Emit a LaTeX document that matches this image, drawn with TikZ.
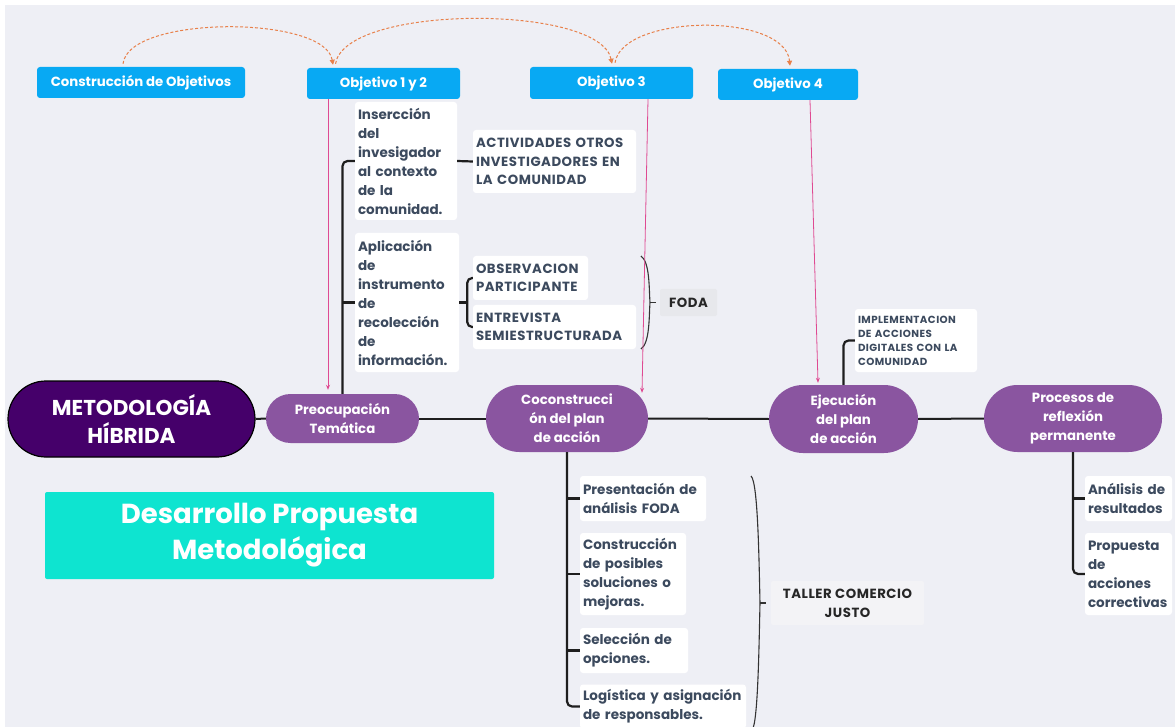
\documentclass[tikz,border=0pt]{standalone}
\usepackage{fontspec}
\setmainfont{Poppins}
\newfontfamily\capsfont{Poppins}[LetterSpace=4.0]
\usetikzlibrary{arrows.meta,calc}

\definecolor{pagebg}{HTML}{EEEFF5}
\definecolor{objblue}{HTML}{08A9F3}
\definecolor{deepviolet}{HTML}{45006A}
\definecolor{midviolet}{HTML}{8A55A0}
\definecolor{aquabox}{HTML}{0EE4D0}
\definecolor{slatetext}{HTML}{3C4A5E}
\definecolor{dashorange}{HTML}{E8804A}
\definecolor{linkpink}{HTML}{DF4A92}
\definecolor{tagbg}{HTML}{E7E8EC}
\definecolor{tagbglight}{HTML}{F3F3F6}
\definecolor{inkline}{HTML}{1E1E1E}

\tikzset{
  objbox/.style={fill=objblue, rounded corners=3, text=white, inner sep=0,
    font=\fontsize{13.3}{16}\selectfont\bfseries},
  pill/.style={fill=midviolet, text=white, align=center, inner sep=0,
    font=\fontsize{13.3}{19}\selectfont\bfseries},
  wbox/.style={fill=white, rounded corners=3, text=slatetext, align=left,
    inner xsep=3pt, inner ysep=0pt,
    font=\fontsize{13.5}{19}\selectfont\bfseries},
  capsbox/.style={wbox, font=\capsfont\fontsize{13.3}{18.5}\selectfont\bfseries},
  tagbox/.style={rounded corners=2, text=black!85, align=center, inner sep=0,
    font=\capsfont\fontsize{13.3}{19}\selectfont\bfseries},
  branch/.style={draw=inkline, line width=2.2pt, rounded corners=5},
  trunk/.style={draw=inkline, line width=2pt},
  link/.style={draw=linkpink, line width=0.8pt, -{Stealth[length=5pt,width=4pt]}},
  dasharc/.style={draw=dashorange, line width=1pt, dash pattern=on 3pt off 2pt,
    -{Triangle[length=5pt,width=5pt]}},
  bracestroke/.style={draw=black!80, line width=1.1pt}
}

\begin{document}
\begin{tikzpicture}[x=1pt,y=-1pt]
\useasboundingbox (0,0) rectangle (1175,727);
\fill[white] (0,0) rectangle (1175,727);
\fill[pagebg] (5,5) rectangle (1175,727);
\clip (0,0) rectangle (1175,727);

% objective boxes
\node[objbox, minimum width=208, minimum height=31] (cons) at (141,82.5) {Construcción de Objetivos};
\node[objbox, minimum width=153, minimum height=31] (o12) at (383.5,83.5) {Objetivo 1 y 2};
\node[objbox, minimum width=163, minimum height=32] (o3) at (611.5,83) {Objetivo 3};
\node[objbox, minimum width=140, minimum height=31] (o4) at (788,84.5) {Objetivo 4};

% main stages
\node[pill, fill=deepviolet, draw=black, line width=1.2pt, minimum width=247, minimum height=76,
  rounded corners=38, font=\fontsize{21.5}{28}\selectfont\bfseries] (meto) at (131.5,419) {METODOLOGÍA\\HÍBRIDA};
\node[pill, minimum width=153, minimum height=49, rounded corners=24.5] (preo) at (342.5,418.5) {Preocupación\\Temática};
\node[pill, minimum width=162, minimum height=67, rounded corners=33.5] (cocon) at (567,418.5) {Coconstrucci\\ón del plan\\de acción};
\node[pill, minimum width=149, minimum height=68, rounded corners=34] (ejec) at (843.5,419) {Ejecución\\del plan\\de acción};
\node[pill, minimum width=178, minimum height=67, rounded corners=33.5] (proc) at (1073,418.5) {Procesos de\\reflexión\\permanente};

% detail boxes
\node[wbox, text width=96, minimum height=118] (ins) at (406,161) {Insercción\\del\\invesigador\\al contexto\\de la\\comunidad.};
\node[wbox, text width=98, minimum height=139] (apl) at (407,302.5) {Aplicación\\de\\instrumento\\de\\recolección\\de\\información.};
\node[capsbox, text width=157, minimum height=63] (act) at (554.5,161.5) {ACTIVIDADES OTROS\\INVESTIGADORES EN\\LA COMUNIDAD};
\node[capsbox, text width=109, minimum height=44] (obs) at (530.5,278) {OBSERVACION\\PARTICIPANTE};
\node[capsbox, text width=157, minimum height=44] (ent) at (554.5,327) {ENTREVISTA\\SEMIESTRUCTURADA};
\node[capsbox, text width=116, minimum height=63, font=\capsfont\fontsize{10.3}{14}\selectfont\bfseries] (impl) at (916,340.5) {IMPLEMENTACION\\DE ACCIONES\\DIGITALES CON LA\\COMUNIDAD};
\node[wbox, text width=120, minimum height=45] (pres) at (643,498.5) {Presentación de\\análisis FODA};
\node[wbox, text width=100, minimum height=82] (consol) at (633,574) {Construcción\\de posibles\\soluciones o\\mejoras.};
\node[wbox, text width=102, minimum height=45] (sel) at (634,650.5) {Selección de\\opciones.};
\node[wbox, text width=160, minimum height=44] (log) at (663,706.5) {Logística y asignación\\de responsables.};
\node[wbox, text width=81, minimum height=45] (ana) at (1128.5,498.5) {Análisis de\\resultados};
\node[wbox, text width=81, minimum height=82] (prop) at (1128.5,574) {Propuesta\\de\\acciones\\correctivas};

% summary tags
\node[tagbox, fill=tagbg, minimum width=57, minimum height=27] (foda) at (688.5,302.5) {FODA};
\node[tagbox, fill=tagbglight, minimum width=153, minimum height=44] (taller) at (847.5,603) {TALLER COMERCIO\\JUSTO};

% title
\node[fill=aquabox, rounded corners=2, text=white, align=center, inner sep=0,
  minimum width=449, minimum height=87, font=\fontsize{27.5}{36}\selectfont\bfseries] (desa) at (269.5,535.5) {Desarrollo Propuesta\\Metodológica};

% trunk
\draw[trunk] (meto.east) -- (preo.west);
\draw[trunk] (preo.east) -- (cocon.west);
\draw[trunk] (cocon.east) -- (ejec.west);
\draw[trunk] (ejec.east) -- (proc.west);

% branches
\draw[branch] (preo.north) |- (ins.west);
\draw[branch] (preo.north |- apl.west) -- (apl.west);
\draw[branch] (ins.east) -- (act.west);
\draw[branch] (apl.east) -- ++(8,0);
\draw[branch] (obs.west) -| ($(apl.east)+(8,0)$) |- (ent.west);
\draw[branch] (ejec.north) |- (impl.west);
\draw[branch] (cocon.south) |- (log.west);
\draw[branch] (cocon.south |- pres.west) -- (pres.west);
\draw[branch] (cocon.south |- consol.west) -- (consol.west);
\draw[branch] (cocon.south |- sel.west) -- (sel.west);
\draw[branch] (proc.south) |- (prop.west);
\draw[branch] (proc.south |- ana.west) -- (ana.west);

% braces
\coordinate (fodaTop) at (641,256);
\coordinate (fodaMid) at (650,302.5);
\coordinate (fodaBot) at (641,349);
\draw[bracestroke] (fodaTop) .. controls (650,262) and (649,290) .. (fodaMid)
  .. controls (649,315) and (650,343) .. (fodaBot);
\draw[bracestroke] (fodaMid) -- ++(6,0);
\coordinate (tallerTop) at (751,476);
\coordinate (tallerMid) at (760,603);
\coordinate (tallerBot) at (752,730);
\draw[bracestroke] (tallerTop) .. controls (758,482) and (759,560) .. (tallerMid)
  .. controls (759,646) and (758,724) .. (tallerBot);
\draw[bracestroke] (tallerMid) -- ++(6,0);

% objective links
\draw[link] ([xshift=-55.5pt]o12.south) -- ([xshift=-14.5pt,yshift=4pt]preo.north);
\draw[link] ([xshift=36.5pt]o3.south) -- ([xshift=75pt,yshift=-8pt]cocon.north);
\draw[link] ([xshift=22pt]o4.south) -- ([xshift=-25.5pt,yshift=2pt]ejec.north);

% sequence arcs
\draw[dasharc] ([xshift=-18pt,yshift=3pt]cons.north) .. controls (128,15) and (325,15) .. ([xshift=-50.5pt,yshift=3pt]o12.north);
\draw[dasharc] ([xshift=-48pt,yshift=4pt]o12.north) .. controls (345,4) and (600,4) .. ([xshift=0.5pt,yshift=3pt]o3.north);
\draw[dasharc] ([xshift=3.5pt,yshift=4pt]o3.north) .. controls (622,14) and (785,12) .. ([xshift=2pt,yshift=3pt]o4.north);
\end{tikzpicture}
\end{document}
